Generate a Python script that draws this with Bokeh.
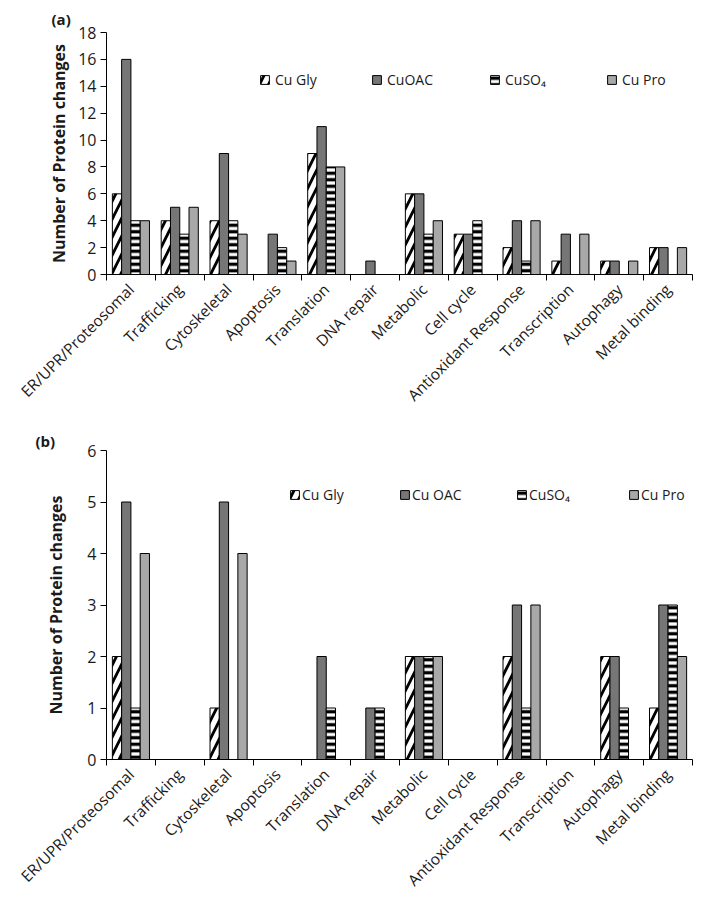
from bokeh.plotting import figure
from bokeh.layouts import column
from bokeh.models import Range1d, FixedTicker, Legend, LegendItem, ColumnDataSource
from bokeh.embed import file_html
from bokeh.resources import INLINE

categories = ["ER/UPR/Proteosomal", "Trafficking", "Cytoskeletal", "Apoptosis",
              "Translation", "DNA repair", "Metabolic", "Cell cycle",
              "Antioxidant Response", "Transcription", "Autophagy", "Metal binding"]

series_a = ["Cu Gly", "CuOAC", "CuSO\u2084", "Cu Pro"]
a_cu_gly = [6, 4, 4, 0, 9, 0, 6, 3, 2, 1, 1, 2]
a_cu_oac = [16, 5, 9, 3, 11, 1, 6, 3, 4, 3, 1, 2]
a_cuso4 = [4, 3, 4, 2, 8, 0, 3, 4, 1, 0, 0, 0]
a_cu_pro = [4, 5, 3, 1, 8, 0, 4, 0, 4, 3, 1, 2]
a_yticks = [0, 2, 4, 6, 8, 10, 12, 14, 16, 18]

series_b = ["Cu Gly", "Cu OAC", "CuSO\u2084", "Cu Pro"]
b_cu_gly = [2, 0, 1, 0, 0, 0, 2, 0, 2, 0, 2, 1]
b_cu_oac = [5, 0, 5, 0, 2, 1, 2, 0, 3, 0, 2, 3]
b_cuso4 = [1, 0, 0, 0, 1, 1, 2, 0, 1, 0, 1, 3]
b_cu_pro = [4, 0, 4, 0, 0, 0, 2, 0, 3, 0, 0, 2]
b_yticks = [0, 1, 2, 3, 4, 5, 6]

FONT = "Open Sans"
TXT = "#1a1a1a"
BAR_W = 0.19

styles = [
    dict(fill_color="white", hatch_pattern="right_diagonal_line", hatch_color="black",
         hatch_scale=18, hatch_weight=2.8),
    dict(fill_color="#767676"),
    dict(fill_color="white", hatch_pattern="horizontal_line", hatch_color="black",
         hatch_scale=6.5, hatch_weight=3.3),
    dict(fill_color="#a8a8a8"),
]


def make_panel(tag, series, values, yticks, ymax, width, height, bl, br, bt, bb,
               legend_pos, legend_standoff, tag_offset, tag_standoff, tag_valign,
               label_standoff):
    n = len(categories)
    p = figure(width=width, height=height, output_backend="svg", toolbar_location=None,
               x_range=Range1d(0, n), y_range=Range1d(0, ymax),
               min_border_left=bl, min_border_right=br, min_border_top=bt, min_border_bottom=bb)
    p.outline_line_color = None
    p.xgrid.visible = False
    p.ygrid.visible = False
    p.background_fill_color = "white"
    p.border_fill_color = "white"

    p.title.text = tag
    p.title.align = "left"
    p.title.vertical_align = tag_valign
    p.title.offset = tag_offset
    p.title.standoff = tag_standoff
    p.title.text_font = FONT
    p.title.text_font_size = "15px"
    p.title.text_font_style = "bold"
    p.title.text_color = TXT

    renderers = []
    for k, (name, vals) in enumerate(zip(series, values)):
        xs = [i + 0.5 + (k - 1.5) * BAR_W for i in range(n)]
        src = ColumnDataSource(dict(x=xs, top=vals))
        r = p.vbar(x="x", top="top", width=BAR_W, source=src, line_color="black",
                   line_width=1, **styles[k])
        renderers.append(r)

    centers = [i + 0.5 for i in range(n)]
    p.xaxis.ticker = FixedTicker(ticks=centers, minor_ticks=list(range(n + 1)))
    p.xaxis.major_label_overrides = {c: lab for c, lab in zip(centers, categories)}
    p.xaxis.major_label_orientation = 0.785398
    p.xaxis.major_tick_in = 0
    p.xaxis.major_tick_out = 0
    p.xaxis.minor_tick_in = 0
    p.xaxis.minor_tick_out = 6
    p.xaxis.minor_tick_line_color = "black"
    p.xaxis.axis_line_color = "black"
    p.xaxis.major_label_text_font = FONT
    p.xaxis.major_label_text_font_size = "15.5px"
    p.xaxis.major_label_text_color = TXT
    p.xaxis.major_label_standoff = 6

    p.yaxis.ticker = FixedTicker(ticks=yticks)
    p.yaxis.minor_tick_line_color = None
    p.yaxis.major_tick_in = 0
    p.yaxis.major_tick_out = 6
    p.yaxis.major_tick_line_color = "black"
    p.yaxis.axis_line_color = "black"
    p.yaxis.major_label_text_font = FONT
    p.yaxis.major_label_text_font_size = "16px"
    p.yaxis.major_label_text_color = TXT
    p.yaxis.major_label_standoff = 4
    p.yaxis.axis_label = "Number of Protein changes"
    p.yaxis.axis_label_text_font = FONT
    p.yaxis.axis_label_text_font_size = "16px"
    p.yaxis.axis_label_text_font_style = "bold"
    p.yaxis.axis_label_text_color = TXT
    p.yaxis.axis_label_standoff = label_standoff

    for (lx, ly), name, r in zip(legend_pos, series, renderers):
        leg = Legend(items=[LegendItem(label=name, renderers=[r])], location=(lx, ly),
                     orientation="horizontal", border_line_color=None,
                     background_fill_alpha=0, padding=0, margin=0,
                     glyph_width=11, glyph_height=11, label_standoff=legend_standoff,
                     label_text_font=FONT, label_text_font_size="14px",
                     label_text_color=TXT)
        p.add_layout(leg)
    return p


pa = make_panel("(a)", series_a, [a_cu_gly, a_cu_oac, a_cuso4, a_cu_pro], a_yticks, 18,
                width=700, height=428, bl=106, br=0, bt=32, bb=154,
                legend_pos=[(153, 185), (265, 185), (383, 185), (500, 185)],
                legend_standoff=5, tag_offset=-55, tag_standoff=4, tag_valign="top",
                label_standoff=5)

pb = make_panel("(b)", series_b, [b_cu_gly, b_cu_oac, b_cuso4, b_cu_pro], b_yticks, 6,
                width=700, height=474, bl=91, br=8, bt=22, bb=143,
                legend_pos=[(183, 255), (293, 255), (410, 255), (522, 255)],
                legend_standoff=2, tag_offset=-71, tag_standoff=0, tag_valign="bottom",
                label_standoff=17)

layout = column(pa, pb, spacing=0)
open("out.html", "w").write(file_html(layout, INLINE))
